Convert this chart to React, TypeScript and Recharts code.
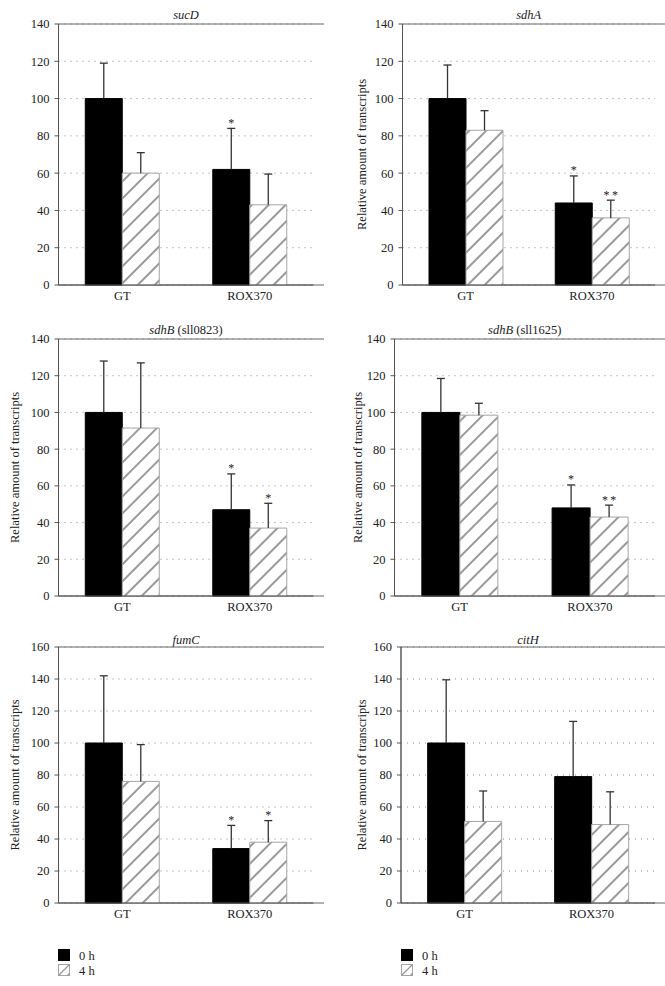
import React from 'react';
import { BarChart, Bar, XAxis, YAxis, CartesianGrid, ReferenceArea, Label } from 'recharts';

const FONT = '"Liberation Serif", "DejaVu Serif", "Times New Roman", serif';

const categories = ['GT', 'ROX370'];
const seriesNames = ['0 h', '4 h'];
const yLabelText = 'Relative amount of transcripts';

const yTicks140 = [0, 20, 40, 60, 80, 100, 120, 140];
const yTicks160 = [0, 20, 40, 60, 80, 100, 120, 140, 160];

// sucD
const sucD0 = [100, 62];
const sucD0Err = [19, 22];
const sucD4 = [60, 43];
const sucD4Err = [11, 16.5];
const sucD0Sig = ['', '*'];
const sucD4Sig = ['', ''];

// sdhA
const sdhA0 = [100, 44];
const sdhA0Err = [18, 14.5];
const sdhA4 = [83, 36];
const sdhA4Err = [10.5, 9.5];
const sdhA0Sig = ['', '*'];
const sdhA4Sig = ['', '**'];

// sdhB (sll0823)
const sdhB0823_0 = [100, 47];
const sdhB0823_0Err = [28, 19.5];
const sdhB0823_4 = [91.5, 37];
const sdhB0823_4Err = [35.5, 13.5];
const sdhB0823_0Sig = ['', '*'];
const sdhB0823_4Sig = ['', '*'];

// sdhB (sll1625)
const sdhB1625_0 = [100, 48];
const sdhB1625_0Err = [18.5, 12.5];
const sdhB1625_4 = [98.5, 43];
const sdhB1625_4Err = [6.5, 6.5];
const sdhB1625_0Sig = ['', '*'];
const sdhB1625_4Sig = ['', '**'];

// fumC
const fumC0 = [100, 34];
const fumC0Err = [42, 14.5];
const fumC4 = [76, 38];
const fumC4Err = [23, 13.5];
const fumC0Sig = ['', '*'];
const fumC4Sig = ['', '*'];

// citH
const citH0 = [100, 79];
const citH0Err = [39.5, 34.5];
const citH4 = [51, 49];
const citH4Err = [19, 20.5];
const citH0Sig = ['', ''];
const citH4Sig = ['', ''];

const buildRows = (v0: number[], e0: number[], v4: number[], e4: number[], s0: string[], s4: string[]) =>
  categories.map((cat, i) => ({ cat, v0: v0[i], e0: e0[i], v4: v4[i], e4: e4[i], s0: s0[i], s4: s4[i] }));

type Panel = {
  id: string;
  italic: string;
  rest: string;
  rows: any[];
  ticks: number[];
  bx: number;
  L: number;
  R: number;
  T: number;
  B: number;
  titleY: number;
  labelX: number | null;
};

const panels: Panel[] = [
  { id: 'p1', italic: 'sucD', rest: '', rows: buildRows(sucD0, sucD0Err, sucD4, sucD4Err, sucD0Sig, sucD4Sig), ticks: yTicks140, bx: 0, L: 58.5, R: 313.5, T: 23.5, B: 284.5, titleY: 15, labelX: null },
  { id: 'p2', italic: 'sdhA', rest: '', rows: buildRows(sdhA0, sdhA0Err, sdhA4, sdhA4Err, sdhA0Sig, sdhA4Sig), ticks: yTicks140, bx: 330, L: 402.5, R: 655, T: 23.5, B: 284.5, titleY: 15, labelX: 361.5 },
  { id: 'p3', italic: 'sdhB', rest: ' (sll0823)', rows: buildRows(sdhB0823_0, sdhB0823_0Err, sdhB0823_4, sdhB0823_4Err, sdhB0823_0Sig, sdhB0823_4Sig), ticks: yTicks140, bx: 0, L: 58.5, R: 313.5, T: 338.5, B: 595.5, titleY: 329.5, labelX: 15 },
  { id: 'p4', italic: 'sdhB', rest: ' (sll1625)', rows: buildRows(sdhB1625_0, sdhB1625_0Err, sdhB1625_4, sdhB1625_4Err, sdhB1625_0Sig, sdhB1625_4Sig), ticks: yTicks140, bx: 330, L: 394.5, R: 655, T: 338.5, B: 595.5, titleY: 329.5, labelX: 358 },
  { id: 'p5', italic: 'fumC', rest: '', rows: buildRows(fumC0, fumC0Err, fumC4, fumC4Err, fumC0Sig, fumC4Sig), ticks: yTicks160, bx: 0, L: 58.5, R: 313.5, T: 646.5, B: 902.5, titleY: 640, labelX: 15 },
  { id: 'p6', italic: 'citH', rest: '', rows: buildRows(citH0, citH0Err, citH4, citH4Err, citH0Sig, citH4Sig), ticks: yTicks160, bx: 330, L: 401, R: 655, T: 646.5, B: 902.5, titleY: 640, labelX: 361.5 },
];

const AXIS = '#555';
const TEXT = '#222';
const HATCH = '#9a9a9a';

const makeErrShape = (sigKey: string) => (props: any) => {
  const { x, y, width, height, payload } = props;
  if (x == null || y == null) return <g />;
  const cx = x + width / 2;
  const sig: string = payload ? payload[sigKey] : '';
  return (
    <g>
      <line x1={cx} x2={cx} y1={y} y2={y + height} stroke="#333" strokeWidth={1.3} />
      <line x1={cx - 4} x2={cx + 4} y1={y} y2={y} stroke="#333" strokeWidth={1.3} />
      {sig ? (
        <text x={cx} y={y - 1.5} textAnchor="middle" fontSize={12} fontFamily={FONT} fill={TEXT}>
          {sig.split('').join('\u2009')}
        </text>
      ) : null}
    </g>
  );
};

const PanelChart = ({ p }: { p: Panel }) => {
  const top = p.T - 10;
  const width = p.R + 10 - p.bx;
  const height = p.B + 30 - top;
  const yMax = p.ticks[p.ticks.length - 1];
  const hatchId = `hatch-${p.id}`;
  return (
    <>
      <div
        style={{
          position: 'absolute',
          left: p.L,
          width: p.R - p.L,
          top: p.titleY - 8,
          height: 16,
          lineHeight: '16px',
          textAlign: 'center',
          fontFamily: FONT,
          fontSize: 12.5,
          color: TEXT,
          whiteSpace: 'nowrap',
        }}
      >
        <i>{p.italic}</i>
        {p.rest}
      </div>
      <div style={{ position: 'absolute', left: p.bx, top, width, height }}>
        <BarChart
          width={width}
          height={height}
          data={p.rows}
          margin={{ top: 10, right: 10, bottom: 0, left: 0 }}
          barCategoryGap="21%"
          barGap={0}
        >
          <defs>
            <pattern id={hatchId} patternUnits="userSpaceOnUse" width={12} height={12} patternTransform="rotate(45)">
              <rect x={0} y={0} width={12} height={12} fill="#fff" />
              <line x1={1} y1={0} x2={1} y2={12} stroke={HATCH} strokeWidth={2} />
            </pattern>
          </defs>
          <CartesianGrid xAxisId="cat" vertical={false} stroke="#8a8a8a" strokeDasharray="1 5" />
          <XAxis
            xAxisId="edge"
            type="number"
            domain={[0, 2]}
            ticks={[0, 1, 2]}
            allowDataOverflow
            height={1}
            tick={false}
            tickSize={5}
            axisLine={false}
            tickLine={{ stroke: AXIS }}
          />
          <XAxis
            xAxisId="cat"
            dataKey="cat"
            type="category"
            height={29}
            tickLine={false}
            tickSize={5}
            tickMargin={1}
            axisLine={{ stroke: AXIS }}
            tick={{ fill: TEXT, fontSize: 12.5, fontFamily: FONT }}
            interval={0}
          />
          <YAxis
            type="number"
            domain={[0, yMax]}
            ticks={p.ticks}
            interval={0}
            width={p.L - p.bx}
            tickSize={4}
            tickMargin={5}
            axisLine={{ stroke: AXIS }}
            tickLine={{ stroke: AXIS }}
            tick={{ fill: TEXT, fontSize: 12.5, fontFamily: FONT }}
          >
            {p.labelX != null ? (
              <Label
                content={(lp: any) => {
                  const vb = lp.viewBox || { x: 0, y: 0, height: 0 };
                  const lx = vb.x + ((p.labelX as number) - p.bx);
                  const ly = vb.y + vb.height / 2;
                  return (
                    <text
                      x={lx}
                      y={ly}
                      transform={`rotate(-90, ${lx}, ${ly})`}
                      textAnchor="middle"
                      dominantBaseline="central"
                      fontSize={12.5}
                      fontFamily={FONT}
                      fill={TEXT}
                    >
                      {yLabelText}
                    </text>
                  );
                }}
              />
            ) : null}
          </YAxis>
          <ReferenceArea
            xAxisId="edge"
            x1={0}
            x2={2}
            y1={0}
            y2={yMax}
            fill="none"
            fillOpacity={0}
            stroke="#666"
            strokeWidth={1}
            ifOverflow="visible"
          />
          <Bar xAxisId="cat" dataKey="v0" name={seriesNames[0]} stackId="a" fill="#000" stroke="#000" isAnimationActive={false} />
          <Bar xAxisId="cat" dataKey="e0" stackId="a" fill="none" legendType="none" shape={makeErrShape('s0')} isAnimationActive={false} />
          <Bar xAxisId="cat" dataKey="v4" name={seriesNames[1]} stackId="b" fill={`url(#${hatchId})`} stroke="#a5a5a5" isAnimationActive={false} />
          <Bar xAxisId="cat" dataKey="e4" stackId="b" fill="none" legendType="none" shape={makeErrShape('s4')} isAnimationActive={false} />
        </BarChart>
      </div>
    </>
  );
};

const LegendBox = ({ left, top }: { left: number; top: number }) => (
  <svg style={{ position: 'absolute', left, top }} width={60} height={32}>
    <rect x={0.5} y={1.5} width={11} height={11} fill="#000" stroke="#000" />
    <text x={21} y={11.5} fontSize={12.5} fontFamily={FONT} fill={TEXT}>
      {seriesNames[0]}
    </text>
    <rect x={0.5} y={16.5} width={11} height={11} fill="#fff" stroke="#a5a5a5" />
    <line x1={0.5} y1={27.5} x2={11.5} y2={16.5} stroke={HATCH} strokeWidth={1.2} />
    <path d="M 8.5 27.5 L 11.5 27.5 L 11.5 24.5 Z" fill={HATCH} />
    <text x={21} y={26.5} fontSize={12.5} fontFamily={FONT} fill={TEXT}>
      {seriesNames[1]}
    </text>
  </svg>
);

export default function App() {
  return (
    <div style={{ position: 'absolute', left: 0, top: 0, width: 665, height: 986, background: '#fff', overflow: 'hidden' }}>
      {panels.map((p) => (
        <PanelChart key={p.id} p={p} />
      ))}
      <LegendBox left={58} top={948} />
      <LegendBox left={400.5} top={948} />
    </div>
  );
}
